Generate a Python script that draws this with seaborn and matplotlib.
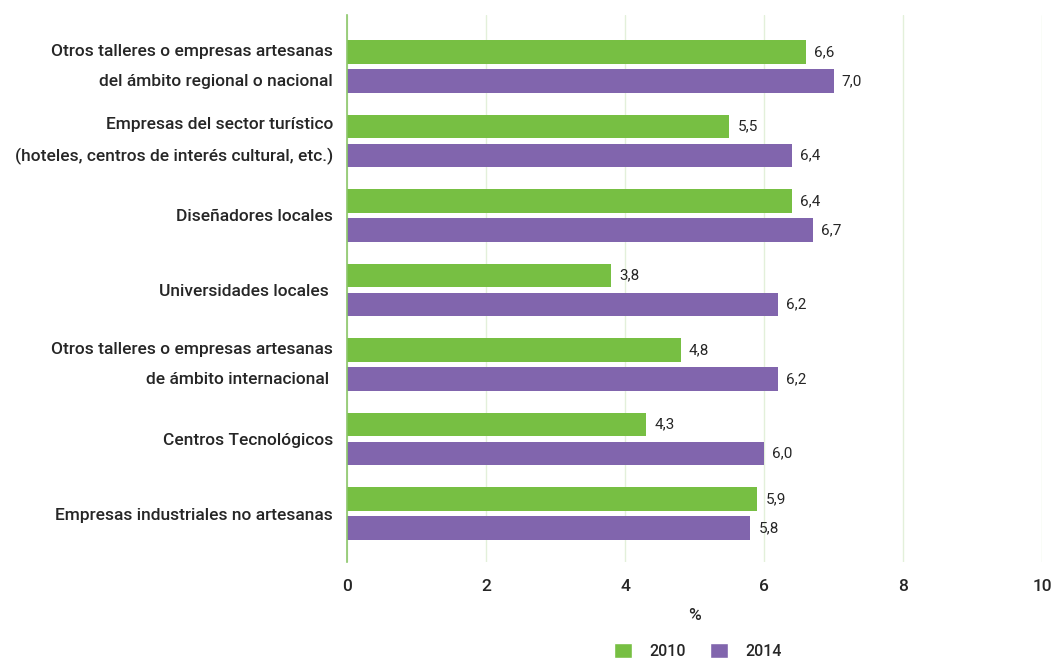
import pandas as pd
import seaborn as sns
import matplotlib.pyplot as plt
from matplotlib.patches import Patch

categorias = [
    "Otros talleres o empresas artesanas\ndel ámbito regional o nacional",
    "Empresas del sector turístico\n(hoteles, centros de interés cultural, etc.)",
    "Diseñadores locales",
    "Universidades locales ",
    "Otros talleres o empresas artesanas\nde ámbito internacional ",
    "Centros Tecnológicos",
    "Empresas industriales no artesanas",
]
valores_2010 = [6.6, 5.5, 6.4, 3.8, 4.8, 4.3, 5.9]
valores_2014 = [7.0, 6.4, 6.7, 6.2, 6.2, 6.0, 5.8]
anios = ["2010", "2014"]

df = pd.DataFrame({
    "categoria": categorias * 2,
    "valor": valores_2010 + valores_2014,
    "anio": [anios[0]] * len(categorias) + [anios[1]] * len(categorias),
})

sns.set_style("white")
plt.rcParams["font.family"] = ["Roboto", "DejaVu Sans"]

verde = "#77bf43"
morado = "#8165ad"
texto = "#262626"

fig = plt.figure(figsize=(10.51, 6.59), dpi=100)
ax = fig.add_axes([347 / 1051, 1 - 562 / 659, (1042 - 347) / 1051, (562 - 15) / 659])

sns.barplot(data=df, y="categoria", x="valor", hue="anio", orient="h",
            palette=[verde, morado], saturation=1, width=0.78, gap=0.2,
            linewidth=0, ax=ax, legend=False)

for cont in ax.containers:
    etiquetas = [f"{b.get_width():.1f}".replace(".", ",") for b in cont]
    ax.bar_label(cont, labels=etiquetas, padding=6, fontsize=11, color=texto)

ax.set_xlim(0, 10)
ax.set_ylim(6.65, -0.69)
ax.set_xticks([0, 2, 4, 6, 8, 10])
ax.grid(axis="x", color="#e3f0da", linewidth=1)
ax.set_axisbelow(True)
for s in ["top", "right", "bottom"]:
    ax.spines[s].set_visible(False)
ax.spines["left"].set_color("#8cc66a")
ax.spines["left"].set_linewidth(1.2)

ax.tick_params(axis="x", length=0, labelsize=12.5, colors=texto, pad=12)
ax.tick_params(axis="y", length=0, pad=10)
for lbl in ax.get_xticklabels():
    lbl.set_fontweight("medium")
for lbl in ax.get_yticklabels():
    lbl.set_fontsize(12.5)
    lbl.set_fontweight("medium")
    lbl.set_color(texto)
    if "\n" in lbl.get_text():
        lbl.set_linespacing(2.2)
        lbl.set_verticalalignment("center")

ax.set_ylabel("")
ax.set_xlabel("%", fontsize=12.5, color=texto, labelpad=10, fontweight="medium")

handles = [Patch(facecolor=verde, label=anios[0]), Patch(facecolor=morado, label=anios[1])]
fig.legend(handles=handles, loc="center", bbox_to_anchor=(698 / 1051, 1 - 651 / 659),
           ncol=2, frameon=False, handlelength=1.1, handleheight=1.1,
           prop={"size": 11.5, "weight": "medium"}, columnspacing=1.5,
           handletextpad=1.1, labelcolor=texto)

fig.savefig("out.png", dpi=100)
